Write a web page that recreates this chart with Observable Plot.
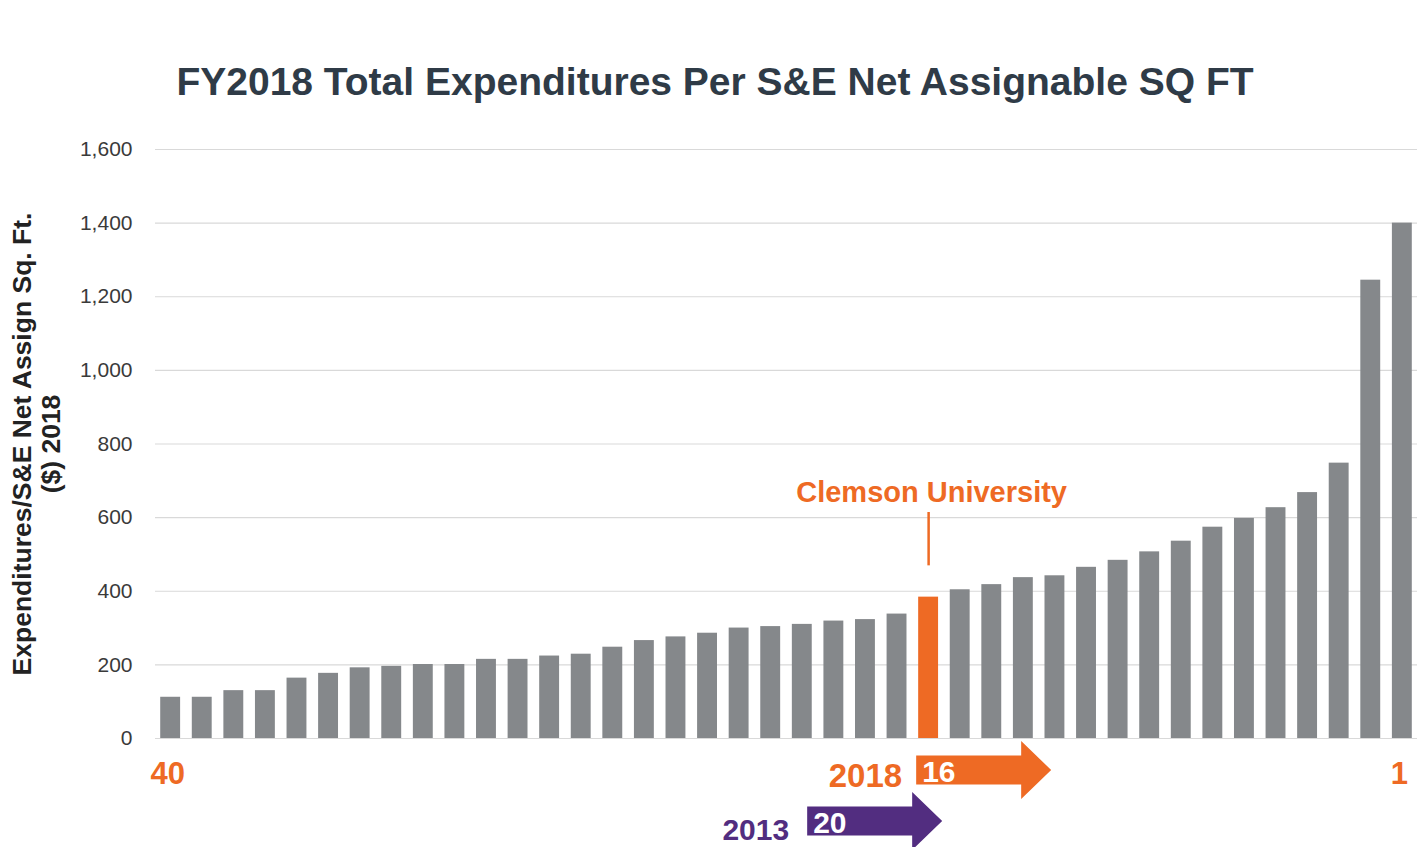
<!DOCTYPE html>
<html>
<head>
<meta charset="utf-8">
<script src="https://cdn.jsdelivr.net/npm/d3@7"></script>
<script src="https://cdn.jsdelivr.net/npm/@observablehq/plot@0.6"></script>
<style>
  html, body { margin: 0; padding: 0; background: #ffffff; }
  body { width: 1424px; height: 847px; overflow: hidden; font-family: "Liberation Sans", Arial, sans-serif; }
  #title { height: 120px; box-sizing: border-box; padding-top: 62px; text-align: center;
           font-size: 39px; line-height: 40px; font-weight: bold; color: #2f3b47; padding-left: 6px; }
  #chart svg { display: block; }
</style>
</head>
<body>
<div id="title">FY2018 Total Expenditures Per S&amp;E Net Assignable SQ FT</div>
<div id="chart"></div>
<script>
// ---- data ----
const ranks = [40,39,38,37,36,35,34,33,32,31,30,29,28,27,26,25,24,23,22,21,20,19,18,17,16,15,14,13,12,11,10,9,8,7,6,5,4,3,2,1];
const values = [112,112,130,130,164,177,192,196,201,201,215,215,224,229,248,266,276,286,300,304,310,319,323,338,384,404,418,437,442,465,484,507,536,574,598,627,668,748,1245,1400];
const highlightRank = 16;
const highlightName = "Clemson University";
const yTicks = [0,200,400,600,800,1000,1200,1400,1600];
const endLabels = [40, 1];
const arrowYears = ["2018", "2013"];
const arrowRanks = [16, 20];
const yLabel = "Expenditures/S&E Net Assign Sq. Ft.\n($) 2018";

const GRAY = "#85888b";
const ORANGE = "#ee6a24";
const PURPLE = "#522d80";
const FONT = "'Liberation Sans', Arial, sans-serif";

const data = ranks.map((r, i) => ({rank: r, value: values[i]}));
const highlight = data.filter(d => d.rank === highlightRank);
const others = data.filter(d => d.rank !== highlightRank);

// arrow layout (annotation styling only)
const arrowStyle = [
  {color: ORANGE, dxLeft: -2,   mid: 32, yearSize: 33, yearGap: 14, yearBase: 17},
  {color: PURPLE, dxLeft: -111, mid: 83, yearSize: 30, yearGap: 18, yearBase: 19}
];

function arrowsMark(index, scales, values, dimensions) {
  const x = scales.x;
  const base = dimensions.height - dimensions.marginBottom;
  const g = d3.create("svg:g");
  arrowYears.forEach((year, i) => {
    const s = arrowStyle[i];
    const left = x(highlightRank) + s.dxLeft;
    const mid = base + s.mid;
    const bodyH = 14.5, headH = 29, len = 135, headLen = 30;
    const hs = left + len - headLen;
    const pts = [[left, mid - bodyH], [hs, mid - bodyH], [hs, mid - headH], [left + len, mid],
                 [hs, mid + headH], [hs, mid + bodyH], [left, mid + bodyH]];
    g.append("path").attr("d", "M" + pts.map(p => p.join(",")).join("L") + "Z").attr("fill", s.color);
    g.append("text").attr("x", left + 6).attr("y", mid + 12)
      .attr("text-anchor", "start")
      .attr("font-size", 30).attr("font-weight", "bold").attr("fill", "#ffffff")
      .attr("font-family", FONT).text(String(arrowRanks[i]));
    g.append("text").attr("x", left - s.yearGap).attr("y", mid + s.yearBase)
      .attr("text-anchor", "end").attr("font-size", s.yearSize).attr("font-weight", "bold")
      .attr("fill", s.color).attr("font-family", FONT).text(year);
  });
  return g.node();
}

const chart = Plot.plot({
  width: 1424,
  height: 727,
  marginTop: 29,
  marginBottom: 109,
  marginLeft: 155,
  marginRight: 7,
  style: {fontFamily: FONT, background: "#ffffff", overflow: "visible"},
  x: {type: "band", domain: ranks, paddingInner: 0.37, paddingOuter: 0.165, round: false, axis: null},
  y: {domain: [0, 1600], axis: null},
  marks: [
    Plot.gridY(yTicks, {stroke: "#d9d9d9", strokeOpacity: 1, strokeWidth: 1.2}),
    Plot.axisY(yTicks, {tickSize: 0, tickPadding: 23, fontSize: 21, fill: "#3a3a3a", tickFormat: d3.format(","), label: null}),
    Plot.barY(others, {x: "rank", y: "value", fill: GRAY}),
    Plot.barY(highlight, {x: "rank", y: "value", fill: ORANGE}),
    Plot.ruleX(highlight, {x: "rank", y1: d => d.value + 85, y2: d => d.value + 230, stroke: ORANGE, strokeWidth: 2.5}),
    Plot.text(highlight, {x: "rank", y: "value", text: () => highlightName, dy: -104, dx: 3,
      fill: ORANGE, fontSize: 29, fontWeight: "bold", textAnchor: "middle"}),
    Plot.text([yLabel], {text: d => d, frameAnchor: "left", dx: -119, rotate: -90,
      fontSize: 26.5, fontWeight: "bold", fill: "#222222", textAnchor: "middle", lineAnchor: "middle", lineHeight: 1.08}),
    Plot.text(endLabels, {x: d => d, text: d => String(d), frameAnchor: "bottom", dy: 36, dx: -3,
      lineAnchor: "middle", fontSize: 31, fontWeight: "bold", fill: ORANGE}),
    arrowsMark
  ]
});
document.getElementById("chart").appendChild(chart);
</script>
</body>
</html>
